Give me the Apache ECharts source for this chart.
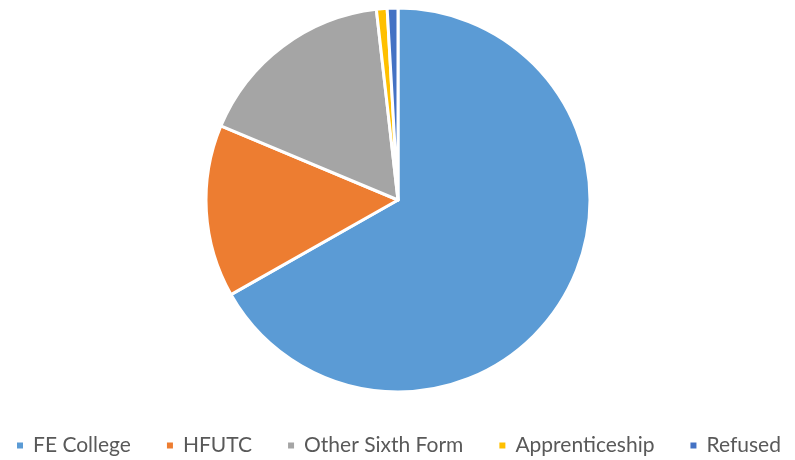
<!DOCTYPE html>
<html>
<head>
<meta charset="utf-8">
<script src="https://cdn.jsdelivr.net/npm/echarts@6/dist/echarts.min.js"></script>
<style>
  html, body { margin: 0; padding: 0; background: #fff; }
  #chart { width: 795px; height: 460px; }
</style>
</head>
<body>
<div id="chart"></div>
<script>
// destination categories and shares (%)
var categories = ['FE College', 'HFUTC', 'Other Sixth Form', 'Apprenticeship', 'Refused'];
var values = [66.8, 14.5, 16.9, 0.9, 0.9];
var colors = ['#5B9BD5', '#ED7D31', '#A5A5A5', '#FFC000', '#4472C4'];

var chart = echarts.init(document.getElementById('chart'));

var pieData = categories.map(function (name, i) {
  return { name: name, value: values[i], itemStyle: { color: colors[i] } };
});

var option = {
  animation: false,
  legend: {
    top: 430,
    left: 10,
    icon: 'rect',
    itemWidth: 8,
    itemHeight: 8,
    itemGap: 34,
    textStyle: { fontFamily: 'Lato', fontSize: 21, color: '#595959', padding: [0, 0, 0, 4] },
    data: categories
  },
  series: [{
    type: 'pie',
    center: [398, 200],
    radius: 192,
    startAngle: 90,
    clockwise: true,
    label: { show: false },
    labelLine: { show: false },
    itemStyle: { borderColor: '#fff', borderWidth: 3 },
    data: pieData
  }]
};

chart.setOption(option);
window.addEventListener('resize', function () {
  chart.resize();
});
</script>
</body>
</html>
